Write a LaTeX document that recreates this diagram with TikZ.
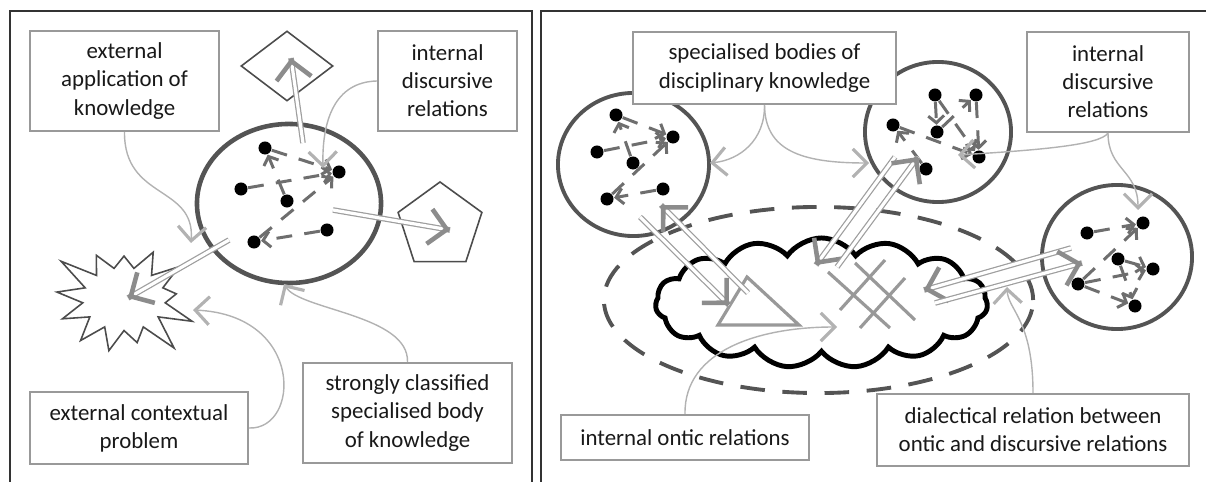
\documentclass[tikz,border=0pt]{standalone}
\usepackage{fontspec}
\setmainfont{Carlito}
\usetikzlibrary{arrows.meta,calc,shapes.geometric,shapes.symbols}

\begin{document}
\begin{tikzpicture}[x=0.01cm,y=-0.01cm,
    panel/.style={draw=black!80,line width=0.5pt},
    textbox/.style={draw=black!40,line width=0.6pt,fill=white,align=center,inner sep=0pt,
      text=black!90,font=\fontsize{6.5pt}{8pt}\selectfont},
    blob/.style={ellipse,draw=black!67,line width=1.3pt,fill=white,inner sep=0pt},
    dot/.style={circle,fill=black,inner sep=0pt,minimum size=0.13cm},
    link/.style={draw=black!57,line width=0.85pt,dash pattern=on 4.5pt off 3.5pt,
      -{Straight Barb[length=2pt,width=4.5pt,line width=0.85pt]}},
    twin/.style={draw=black!38,line width=0.35pt,double=white,double distance=0.9pt},
    twintip/.style={draw=black!45,line width=1.3pt,-{Straight Barb[length=5pt,width=10pt,line width=1.3pt]}},
    pointer/.style={draw=black!30,line width=0.4pt,-{Straight Barb[length=4pt,width=8pt,line width=0.9pt]}},
    outline/.style={draw=black!70,line width=0.45pt,fill=white,inner sep=0pt},
    glyph/.style={draw=black!40,line width=0.9pt}]
  \useasboundingbox (0,0) rectangle (1206,482);

  % two panels
  \draw[panel] (10,482) -- (10,11) -- (532,11) -- (532,482);
  \draw[panel] (541,482) -- (541,11) -- (1206,11);

  % left panel: shapes
  \node[diamond,outline,minimum width=0.92cm,minimum height=0.70cm] (gem) at (287,66) {};
  \node[regular polygon,regular polygon sides=5,outline,minimum size=0.88cm] (penta) at (440,226) {};
  \node[starburst,starburst points=13,starburst point height=0.36cm,random starburst=3,outline,
    minimum width=1.55cm,minimum height=1.35cm] (burst) at (124,299) {};
  \node[blob,minimum width=1.84cm,minimum height=1.59cm] (core) at (289,203.5) {};

  % right panel: field, cloud and bodies
  \node[ellipse,draw=black!67,line width=1.1pt,dash pattern=on 7pt off 5pt,
    minimum width=4.29cm,minimum height=1.86cm] (field) at (818.5,300) {};
  \node[cloud,cloud puffs=15,cloud puff arc=110,cloud ignores aspect,draw=black,line width=1.4pt,
    fill=white,inner sep=0pt,minimum width=3.32cm,minimum height=1.30cm] (world) at (821.5,303) {};
  \draw[glyph] (747,277) -- (718,325) -- (799,325) -- cycle;
  \draw[glyph] (828,272) -- (890,328);
  \draw[glyph] (855,263) -- (915,320);
  \draw[glyph] (840,310) -- (885,260);
  \draw[glyph] (860,328) -- (905,278);
  \node[blob,line width=1.1pt,minimum width=1.51cm,minimum height=1.43cm] (bodyA) at (633.5,164.5) {};
  \node[blob,line width=1.1pt,minimum width=1.46cm,minimum height=1.40cm] (bodyB) at (938,132) {};
  \node[blob,line width=1.1pt,minimum width=1.50cm,minimum height=1.44cm] (bodyC) at (1117,257) {};

  % points of knowledge
  \foreach \n/\x/\y in {d1/265/148,d2/339/172,d3/241/189,d4/287/201,d5/254/242,d6/327/230,
      a1/616/115,a2/673/137,a3/597/152,a4/633/163,a5/607/199,a6/663/189,
      b1/935/95,b2/976/95,b3/893/125,b4/937/132,b5/979/157,b6/926/169,
      c1/1143/223,c2/1087/233,c3/1118/259,c4/1153/269,c5/1078/284,c6/1135/306}
    \node[dot] (\n) at (\x,\y) {};

  % internal discursive relations
  \foreach \s/\t in {d4/d1,d1/d2,d3/d2,d5/d2,d6/d5,
      a4/a1,a1/a2,a3/a2,a5/a2,a6/a5,
      b1/b4,b1/b5,b2/b5,b4/b2,b3/b5,b6/b3,
      c2/c1,c5/c1,c3/c4,c5/c4,c5/c6,c3/c6}
    \draw[link] (\s) -- (\t);

  % double arrows
  \coordinate (upS) at (303,143);   \coordinate (upT) at (291,58);
  \coordinate (rtS) at (333,210);   \coordinate (rtT) at (450,230);
  \coordinate (dnS) at (229,240);   \coordinate (dnT) at (128,298);
  \coordinate (aS) at (640,217);    \coordinate (aT) at (729,305);
  \coordinate (triS) at (748,293);  \coordinate (triT) at (661,205);
  \coordinate (bS) at (895,157);    \coordinate (bT) at (816,265);
  \coordinate (hashS) at (837,267); \coordinate (hashT) at (918,157);
  \coordinate (cS) at (1071,248);   \coordinate (cT) at (924,290);
  \coordinate (hashR) at (935,303); \coordinate (cR) at (1082,263);
  \foreach \s/\t in {upS/upT,rtS/rtT,dnS/dnT,aS/aT,triS/triT,bS/bT,hashS/hashT,cS/cT,hashR/cR}
  {
    \draw[twin] (\s) -- (\t);
    \draw[twintip] ($(\t)!0.1pt!(\s)$) -- (\t);
  }

  % text boxes
  \node[textbox,minimum width=1.89cm,minimum height=1.00cm] (apply) at (124.5,81) {external\\application of\\knowledge};
  \node[textbox,minimum width=1.39cm,minimum height=1.00cm] (innerL) at (447.5,81) {internal\\discursive\\relations};
  \node[textbox,minimum width=2.18cm,minimum height=0.72cm] (problem) at (139,428) {external contextual\\problem};
  \node[textbox,minimum width=2.09cm,minimum height=1.00cm] (body) at (407.5,413) {strongly classified\\specialised body\\of knowledge};
  \node[textbox,minimum width=2.63cm,minimum height=0.72cm] (bodies) at (764.5,68) {specialised bodies of\\disciplinary knowledge};
  \node[textbox,minimum width=1.62cm,minimum height=1.00cm] (innerR) at (1108,82) {internal\\discursive\\relations};
  \node[textbox,minimum width=2.48cm,minimum height=0.45cm] (ontic) at (685,437.5) {internal ontic relations};
  \node[textbox,minimum width=3.12cm,minimum height=0.72cm] (dialect) at (1033,430) {dialectical relation between\\ontic and discursive relations};

  % pointers from the texts
  \draw[pointer] (apply.south) .. controls (124,200) and (195,185) .. (191,243);
  \draw[pointer] (innerL.west) .. controls (335,82) and (322,120) .. (323,168);
  \draw[pointer] (body.north) .. controls (409,315) and (300,310) .. (284,284);
  \draw[pointer] (problem.east) .. controls (300,430) and (305,315) .. (193,310);
  \draw[pointer] (bodies.south) .. controls (765,140) and (740,160) .. (710,163);
  \draw[pointer] (bodies.south) .. controls (765,150) and (800,163) .. (869,163);
  \draw[pointer] (innerR.south) .. controls (1100,145) and (1040,150) .. (958,155);
  \draw[pointer] (innerR.south) .. controls (1108,170) and (1138,170) .. (1138,210);
  \draw[pointer] (ontic.north) .. controls (684,350) and (760,327) .. (837,327);
  \draw[pointer] (dialect.north) .. controls (1033,320) and (1008,310) .. (1007,287);
\end{tikzpicture}
\end{document}
